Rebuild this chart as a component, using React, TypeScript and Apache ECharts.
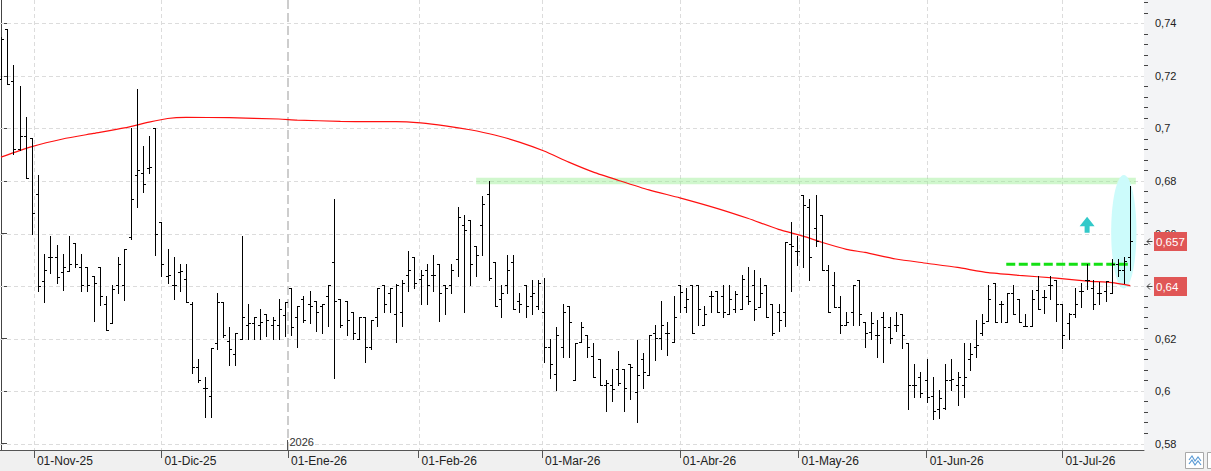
import React, { useEffect, useRef } from 'react';
import * as echarts from 'echarts';

// ---------- categories (trading calendar) ----------
const FIRST_DAY = '2025-10-24';
const LAST_DAY = '2026-07-16';
const HOLIDAYS = ['2025-12-25', '2025-12-26', '2026-01-01', '2026-04-03', '2026-04-06', '2026-05-01'];

const monthStarts = ['2025-11-01', '2025-12-01', '2026-01-01', '2026-02-01', '2026-03-01', '2026-04-01', '2026-05-01', '2026-06-01', '2026-07-01'];
const monthLabels = ['01-Nov-25', '01-Dic-25', '01-Ene-26', '01-Feb-26', '01-Mar-26', '01-Abr-26', '01-May-26', '01-Jun-26', '01-Jul-26'];
const yearStart = '2026-01-01';
const yearLabel = '2026';

// ---------- OHLC series ----------
const opens = [
  0.719, 0.738, 0.718, 0.692, 0.697, 0.6965, 0.675, 0.642, 0.651, 0.651,
  0.6453, 0.6459, 0.6563, 0.6474, 0.6471, 0.6438, 0.6471, 0.6331, 0.626, 0.6403,
  0.6403, 0.6588, 0.6823, 0.6829, 0.6848, 0.700, 0.6643, 0.6438, 0.6403, 0.6453,
  0.6426, 0.6331, 0.6091, 0.6011, 0.598, 0.6182, 0.634, 0.6191, 0.614, 0.620,
  0.6251, 0.6261, 0.6251, 0.6292, 0.6251, 0.6251, 0.629, 0.6394, 0.6281, 0.635,
  0.6331, 0.6343, 0.6324, 0.6362, 0.6491, 0.635, 0.6343, 0.630, 0.620, 0.6281,
  0.6169, 0.6281, 0.6403, 0.6372, 0.6292, 0.630, 0.6441, 0.6511, 0.6428, 0.6461,
  0.6441, 0.6483, 0.6403, 0.6403, 0.6503, 0.6631, 0.665, 0.6551, 0.6631, 0.6749,
  0.6491, 0.635, 0.6403, 0.6491, 0.6343, 0.6403, 0.6362, 0.6324, 0.630, 0.6169,
  0.6067, 0.6169, 0.6324, 0.6041, 0.6186, 0.6214, 0.6133, 0.6124, 0.6022, 0.6022,
  0.6083, 0.6083, 0.6104, 0.5995, 0.6124, 0.6061, 0.622, 0.6202, 0.622, 0.6188,
  0.6403, 0.6321, 0.6403, 0.6403, 0.625, 0.6361, 0.638, 0.6361, 0.6292, 0.6314,
  0.6311, 0.6361, 0.6403, 0.6321, 0.6403, 0.6331, 0.630, 0.630, 0.6561, 0.6535,
  0.6748, 0.6702, 0.6621, 0.6669, 0.6461, 0.6403, 0.6321, 0.625, 0.630, 0.6423,
  0.6262, 0.6225, 0.6214, 0.6283, 0.6245, 0.6252, 0.6292, 0.6184, 0.6024, 0.6055,
  0.6042, 0.5981, 0.5931, 0.5935, 0.6042, 0.6024, 0.6024, 0.6121, 0.6169, 0.622,
  0.6267, 0.641, 0.6331, 0.6262, 0.6372, 0.635, 0.6249, 0.6249, 0.6384, 0.636,
  0.6403, 0.6423, 0.6331, 0.6258, 0.6292, 0.638, 0.6423, 0.6391, 0.6372, 0.638,
  0.6372, 0.6483, 0.6461, 0.6511,
];
const highs = [
  0.735, 0.738, 0.724, 0.716, 0.7045, 0.6965, 0.6823, 0.6522, 0.659, 0.6555,
  0.6522, 0.659, 0.6563, 0.6522, 0.6471, 0.6438, 0.6471, 0.6362, 0.6403, 0.6512,
  0.654, 0.700, 0.7149, 0.6933, 0.6971, 0.700, 0.6643, 0.654, 0.651, 0.6484,
  0.6484, 0.634, 0.6123, 0.6052, 0.6164, 0.6372, 0.634, 0.6245, 0.622, 0.659,
  0.6331, 0.6281, 0.6311, 0.6292, 0.6281, 0.6351, 0.634, 0.6394, 0.6324, 0.6362,
  0.6381, 0.6343, 0.6331, 0.6403, 0.6731, 0.635, 0.6343, 0.630, 0.6281, 0.6281,
  0.627, 0.6394, 0.6403, 0.6394, 0.6407, 0.6423, 0.6534, 0.6511, 0.6461, 0.6483,
  0.652, 0.6483, 0.6403, 0.6483, 0.670, 0.6669, 0.665, 0.6551, 0.6743, 0.680,
  0.6491, 0.6403, 0.652, 0.652, 0.6372, 0.6403, 0.6423, 0.6423, 0.643, 0.620,
  0.6243, 0.6331, 0.6324, 0.6182, 0.6263, 0.6214, 0.6182, 0.6124, 0.6041, 0.6084,
  0.6152, 0.6083, 0.6104, 0.6195, 0.6145, 0.6214, 0.6251, 0.6344, 0.6263, 0.6362,
  0.6403, 0.6391, 0.6403, 0.6403, 0.6324, 0.638, 0.638, 0.6403, 0.6403, 0.638,
  0.6442, 0.6471, 0.6461, 0.643, 0.6403, 0.6331, 0.6331, 0.6569, 0.6644, 0.6589,
  0.6748, 0.6731, 0.6748, 0.6669, 0.6481, 0.6453, 0.6362, 0.630, 0.6403, 0.6423,
  0.6262, 0.6302, 0.627, 0.630, 0.6283, 0.630, 0.6292, 0.6184, 0.6103, 0.6073,
  0.6121, 0.6053, 0.6003, 0.6103, 0.6121, 0.6073, 0.6184, 0.6184, 0.627, 0.6292,
  0.6403, 0.641, 0.6343, 0.6372, 0.6403, 0.635, 0.6292, 0.6384, 0.6437, 0.6384,
  0.6437, 0.6423, 0.6331, 0.6299, 0.6391, 0.641, 0.6483, 0.6423, 0.6414, 0.6419,
  0.6503, 0.6503, 0.6511, 0.678,
];
const lows = [
  0.719, 0.717, 0.6901, 0.6918, 0.681, 0.660, 0.638, 0.634, 0.645, 0.6412,
  0.6385, 0.6459, 0.6471, 0.638, 0.638, 0.6268, 0.6327, 0.6232, 0.626, 0.6374,
  0.6347, 0.658, 0.670, 0.676, 0.6829, 0.652, 0.644, 0.641, 0.635, 0.638,
  0.634, 0.607, 0.6033, 0.590, 0.590, 0.6162, 0.6207, 0.610, 0.610, 0.620,
  0.620, 0.620, 0.620, 0.621, 0.620, 0.620, 0.621, 0.6212, 0.6169, 0.6262,
  0.626, 0.623, 0.622, 0.6249, 0.6051, 0.6243, 0.6212, 0.620, 0.620, 0.611,
  0.6162, 0.6249, 0.630, 0.630, 0.6188, 0.6249, 0.638, 0.6392, 0.6331, 0.6331,
  0.638, 0.6268, 0.6292, 0.6372, 0.644, 0.630, 0.6403, 0.644, 0.652, 0.6423,
  0.6324, 0.6281, 0.6372, 0.6311, 0.630, 0.6281, 0.6292, 0.6311, 0.611, 0.6051,
  0.6003, 0.6131, 0.6131, 0.6041, 0.6186, 0.6131, 0.6053, 0.6024, 0.5923, 0.5961,
  0.6022, 0.5923, 0.597, 0.5882, 0.6011, 0.6061, 0.612, 0.6159, 0.6139, 0.6188,
  0.630, 0.630, 0.622, 0.625, 0.625, 0.630, 0.630, 0.6282, 0.6292, 0.630,
  0.6311, 0.6331, 0.6269, 0.6321, 0.6282, 0.6214, 0.623, 0.6249, 0.638, 0.6481,
  0.6471, 0.6423, 0.6551, 0.6461, 0.630, 0.6321, 0.622, 0.625, 0.625, 0.625,
  0.6169, 0.620, 0.6131, 0.611, 0.6184, 0.623, 0.6163, 0.5931, 0.5979, 0.5979,
  0.596, 0.5893, 0.5898, 0.5931, 0.6003, 0.5947, 0.5979, 0.6081, 0.6131, 0.6214,
  0.6267, 0.6262, 0.6262, 0.6262, 0.6292, 0.6262, 0.6249, 0.6249, 0.6311, 0.6299,
  0.635, 0.6267, 0.6163, 0.620, 0.6283, 0.6321, 0.6389, 0.6311, 0.6331, 0.6343,
  0.6372, 0.644, 0.641, 0.6461,
];
const closes = [
  0.734, 0.717, 0.692, 0.697, 0.681, 0.668, 0.640, 0.646, 0.651, 0.6433,
  0.6474, 0.6484, 0.6484, 0.6403, 0.6403, 0.6412, 0.6362, 0.6232, 0.639, 0.6484,
  0.654, 0.673, 0.6842, 0.679, 0.6852, 0.660, 0.6484, 0.6442, 0.6403, 0.6458,
  0.634, 0.6091, 0.6042, 0.6011, 0.6164, 0.634, 0.6212, 0.6162, 0.622, 0.6281,
  0.6261, 0.6281, 0.6263, 0.627, 0.627, 0.6311, 0.634, 0.6243, 0.6324, 0.627,
  0.6324, 0.630, 0.6331, 0.6403, 0.6343, 0.6252, 0.627, 0.622, 0.6281, 0.6169,
  0.627, 0.6394, 0.6331, 0.6394, 0.6403, 0.6411, 0.6461, 0.6411, 0.6441, 0.6403,
  0.6441, 0.6372, 0.6393, 0.6461, 0.6662, 0.6614, 0.6483, 0.652, 0.6711, 0.643,
  0.6324, 0.6372, 0.6461, 0.6311, 0.6331, 0.6324, 0.6372, 0.6411, 0.6169, 0.6103,
  0.6212, 0.630, 0.6262, 0.6182, 0.6244, 0.6167, 0.6053, 0.6024, 0.6032, 0.6008,
  0.6030, 0.6011, 0.6093, 0.6061, 0.6072, 0.6214, 0.6202, 0.6251, 0.622, 0.6282,
  0.6379, 0.6352, 0.622, 0.6314, 0.6293, 0.6361, 0.630, 0.630, 0.6352, 0.6369,
  0.6428, 0.6343, 0.6311, 0.6373, 0.6282, 0.622, 0.627, 0.6566, 0.6551, 0.6535,
  0.6708, 0.6511, 0.6573, 0.6461, 0.630, 0.6321, 0.625, 0.6263, 0.6403, 0.6292,
  0.622, 0.626, 0.6214, 0.6245, 0.6202, 0.6252, 0.6214, 0.6024, 0.6024, 0.5992,
  0.5979, 0.5926, 0.5973, 0.6042, 0.6048, 0.6055, 0.6055, 0.6141, 0.6175, 0.6258,
  0.635, 0.6262, 0.6331, 0.6372, 0.6292, 0.6262, 0.6249, 0.635, 0.6311, 0.636,
  0.6403, 0.6331, 0.6214, 0.6292, 0.6331, 0.638, 0.6423, 0.6331, 0.6372, 0.6419,
  0.6483, 0.6461, 0.6495, 0.657,
];

// ---------- moving average (read at sampled bars) ----------
const maIdx = [0, 5, 10, 15, 20, 24, 27, 30, 37, 45, 48, 55, 60, 64, 68, 72, 76, 80, 84, 88, 92, 96, 100, 105, 110, 116, 121, 126, 130, 133, 137, 140, 145, 150, 155, 160, 165, 171, 176, 180, 183];
const maVal = [0.6891, 0.6931, 0.6960, 0.6981, 0.7002, 0.7024, 0.7038, 0.7042, 0.7041, 0.7036, 0.7032, 0.7027, 0.7026, 0.7026, 0.7021, 0.7010, 0.6995, 0.6975, 0.6948, 0.6914, 0.6872, 0.6834, 0.6803, 0.6766, 0.6736, 0.6696, 0.6658, 0.6616, 0.6590, 0.6567, 0.6540, 0.6528, 0.6503, 0.6487, 0.6471, 0.6451, 0.6441, 0.6430, 0.6419, 0.6413, 0.6402];

// ---------- axis ticks ----------
const yTicks = [0.58, 0.6, 0.62, 0.64, 0.66, 0.68, 0.7, 0.72, 0.74];

// ---------- annotations (data units) ----------
const resistanceLevel = [77, 183.9, 0.68];       // from bar, to bar, value
const breakoutLevel = [162.9, 183.0, 0.6483];    // from bar, to bar, value
const highlightZone = [179.9, 184.0, 0.6391, 0.6823]; // from bar, to bar, low, high
const arrowPoint = [176.0, 0.6664];              // bar, value (tip)

// ---------- axis ranges ----------
const X_MIN = -0.162;
const X_MAX = 185.22;
const Y_MIN = 0.5776;
const Y_MAX = 0.7489;

const FONT = '"Liberation Sans", Arial, sans-serif';

const dayNum = (s: string) => Date.UTC(+s.slice(0, 4), +s.slice(5, 7) - 1, +s.slice(8, 10)) / 86400000;

function buildTradingDays(): number[] {
  const hol = new Set(HOLIDAYS.map(dayNum));
  const out: number[] = [];
  for (let d = dayNum(FIRST_DAY); d <= dayNum(LAST_DAY); d++) {
    const wd = new Date(d * 86400000).getUTCDay();
    if (wd === 0 || wd === 6 || hol.has(d)) continue;
    out.push(d);
  }
  return out;
}

function positionOfDate(days: number[], s: string): number {
  const d = dayNum(s);
  let b = days.findIndex((x) => x >= d);
  if (b < 0) b = days.length - 1;
  if (days[b] === d || b === 0) return b;
  const a = b - 1;
  return a + (d - days[a]) / (days[b] - days[a]);
}

const fmtNum = (v: number) => String(+v.toFixed(3)).replace('.', ',');
const crisp = (v: number) => Math.round(v) + 0.5;

export default function App() {
  const ref = useRef<HTMLDivElement>(null);

  useEffect(() => {
    document.body.style.margin = '0';
    const el = ref.current!;
    const chart = echarts.init(el, null, { renderer: 'svg' });

    const days = buildTradingDays();
    const n = Math.min(opens.length, highs.length, lows.length, closes.length, days.length);
    const ohlc = [];
    for (let i = 0; i < n; i++) ohlc.push([i, opens[i], highs[i], lows[i], closes[i]]);

    const monthPos = monthStarts.map((m) => positionOfDate(days, m));
    const labelFor = (v: number) => {
      const k = monthPos.findIndex((p) => Math.abs(p - v) < 1e-6);
      return k >= 0 ? monthLabels[k] : '';
    };

    const minorTicks: number[] = [];
    for (let k = 145; k <= 187; k++) if (k % 5 !== 0) minorTicks.push(+(k * 0.004).toFixed(3));

    const lastClose = closes[n - 1];
    const lastMA = maVal[maVal.length - 1];

    const option: any = {
      animation: false,
      backgroundColor: 'transparent',
      grid: { left: 0, right: 67, top: 0, bottom: 21, show: true, backgroundColor: '#ffffff', borderWidth: 0 },
      xAxis: {
        type: 'value',
        min: X_MIN,
        max: X_MAX,
        position: 'bottom',
        axisLine: { show: true, onZero: false, lineStyle: { color: '#555', width: 1 } },
        axisTick: { show: true, customValues: monthPos, length: 8, lineStyle: { color: '#555', width: 1 } },
        axisLabel: {
          customValues: monthPos,
          formatter: (v: number) => labelFor(v),
          align: 'left',
          margin: 5,
          padding: [0, 0, 0, 3],
          color: '#222',
          fontSize: 12,
          fontFamily: FONT,
        },
        splitLine: { show: false },
      },
      yAxis: [
        {
          type: 'value',
          position: 'right',
          min: Y_MIN,
          max: Y_MAX,
          axisLine: { show: true, lineStyle: { color: '#444', width: 1 } },
          axisTick: { show: true, customValues: yTicks, length: 6, lineStyle: { color: '#444' } },
          axisLabel: { customValues: yTicks, formatter: (v: number) => fmtNum(v), margin: 11, color: '#222', fontSize: 11, fontFamily: FONT },
          splitLine: { show: false },
        },
        {
          type: 'value',
          position: 'right',
          min: Y_MIN,
          max: Y_MAX,
          axisLine: { show: false },
          axisTick: { show: true, customValues: minorTicks, length: 4, lineStyle: { color: '#444' } },
          axisLabel: { show: false },
          splitLine: { show: false },
        },
      ],
      series: [
        // horizontal grid lines
        {
          type: 'custom',
          silent: true,
          z: 1,
          data: yTicks.map((v) => [X_MIN, v]),
          encode: { x: 0, y: 1 },
          renderItem: (params: any, api: any) => {
            const cs = params.coordSys;
            const y = crisp(api.coord([X_MIN, api.value(1)])[1]);
            return {
              type: 'line',
              shape: { x1: cs.x, y1: y, x2: cs.x + cs.width, y2: y },
              style: { stroke: '#dcdcdc', lineWidth: 1, lineDash: [4, 3] },
            };
          },
        },
        // vertical month lines + year boundary
        {
          type: 'custom',
          silent: true,
          z: 1,
          data: monthPos.map((p, k) => [p, monthStarts[k] === yearStart ? 1 : 0]),
          encode: { x: 0 },
          renderItem: (params: any, api: any) => {
            const cs = params.coordSys;
            const isYear = api.value(1) === 1;
            const xr = api.coord([api.value(0), Y_MIN])[0];
            const bottom = cs.y + cs.height;
            if (!isYear) {
              const x = crisp(xr);
              return {
                type: 'line',
                shape: { x1: x, y1: cs.y, x2: x, y2: bottom },
                style: { stroke: '#dcdcdc', lineWidth: 1, lineDash: [4, 3] },
              };
            }
            const x = Math.round(xr);
            return {
              type: 'group',
              children: [
                {
                  type: 'line',
                  shape: { x1: x, y1: cs.y, x2: x, y2: bottom },
                  style: { stroke: '#cdcdcd', lineWidth: 2, lineDash: [9, 4] },
                },
                {
                  type: 'line',
                  shape: { x1: x - 0.5, y1: bottom - 10, x2: x - 0.5, y2: bottom },
                  style: { stroke: '#555', lineWidth: 1 },
                },
                {
                  type: 'text',
                  x: x + 1.5,
                  y: bottom - 8.5,
                  style: {
                    text: yearLabel,
                    fill: '#333',
                    font: '11px ' + FONT,
                    textAlign: 'left',
                    textVerticalAlign: 'middle',
                    align: 'left',
                    verticalAlign: 'middle',
                  },
                },
              ],
            };
          },
        },
        // resistance band
        {
          type: 'custom',
          silent: true,
          z: 2,
          data: [resistanceLevel],
          encode: { x: [0, 1], y: 2 },
          renderItem: (params: any, api: any) => {
            const p1 = api.coord([api.value(0), api.value(2)]);
            const p2 = api.coord([api.value(1), api.value(2)]);
            return {
              type: 'rect',
              shape: { x: p1[0], y: p1[1] - 3.2, width: p2[0] - p1[0], height: 6.4 },
              style: { fill: 'rgba(150, 238, 145, 0.45)' },
            };
          },
        },
        // highlight ellipse
        {
          type: 'custom',
          silent: true,
          z: 2,
          data: [highlightZone],
          encode: { x: [0, 1], y: [2, 3] },
          renderItem: (params: any, api: any) => {
            const pl = api.coord([api.value(0), api.value(2)]);
            const ph = api.coord([api.value(1), api.value(3)]);
            return {
              type: 'ellipse',
              shape: { cx: (pl[0] + ph[0]) / 2, cy: (pl[1] + ph[1]) / 2, rx: (ph[0] - pl[0]) / 2, ry: (pl[1] - ph[1]) / 2 },
              style: { fill: '#ccfbfb' },
            };
          },
        },
        // breakout dashed level
        {
          type: 'custom',
          silent: true,
          z: 3,
          data: [breakoutLevel],
          encode: { x: [0, 1], y: 2 },
          renderItem: (params: any, api: any) => {
            const p1 = api.coord([api.value(0), api.value(2)]);
            const p2 = api.coord([api.value(1), api.value(2)]);
            return {
              type: 'line',
              shape: { x1: p1[0], y1: p1[1], x2: p2[0], y2: p2[1] },
              style: { stroke: '#14e014', lineWidth: 3, lineDash: [9, 3.5] },
            };
          },
        },
        // moving average
        {
          type: 'line',
          z: 4,
          data: maIdx.map((x, k) => [x, maVal[k]]),
          symbol: 'none',
          smooth: 0.2,
          silent: true,
          lineStyle: { color: '#ff1010', width: 1.2 },
        },
        // OHLC bars
        {
          type: 'custom',
          z: 5,
          silent: true,
          dimensions: ['idx', 'open', 'high', 'low', 'close'],
          encode: { x: 0, y: [1, 2, 3, 4] },
          data: ohlc,
          renderItem: (params: any, api: any) => {
            const i = api.value(0);
            const x = crisp(api.coord([i, api.value(1)])[0]);
            const yo = crisp(api.coord([i, api.value(1)])[1]);
            const yh = Math.round(api.coord([i, api.value(2)])[1]);
            const yl = Math.round(api.coord([i, api.value(3)])[1]);
            const yc = crisp(api.coord([i, api.value(4)])[1]);
            const st = { stroke: '#000', lineWidth: 1 };
            return {
              type: 'group',
              children: [
                { type: 'line', shape: { x1: x, y1: yh, x2: x, y2: yl + 1 }, style: st },
                { type: 'line', shape: { x1: x - 2.5, y1: yo, x2: x, y2: yo }, style: st },
                { type: 'line', shape: { x1: x, y1: yc, x2: x + 2.5, y2: yc }, style: st },
              ],
            };
          },
        },
        // up arrow
        {
          type: 'custom',
          silent: true,
          z: 6,
          data: [arrowPoint],
          encode: { x: 0, y: 1 },
          renderItem: (params: any, api: any) => {
            const p = api.coord([api.value(0), api.value(1)]);
            const x = p[0];
            const y = p[1];
            return {
              type: 'polygon',
              shape: {
                points: [
                  [x, y],
                  [x + 7.5, y + 9.5],
                  [x + 2.5, y + 9.5],
                  [x + 2.5, y + 16],
                  [x - 2.5, y + 16],
                  [x - 2.5, y + 9.5],
                  [x - 7.5, y + 9.5],
                ],
              },
              style: { fill: '#33c9c9' },
            };
          },
        },
        // last value labels on the price axis
        {
          type: 'custom',
          silent: true,
          z: 10,
          data: [
            [X_MAX, lastClose],
            [X_MAX, lastMA],
          ],
          encode: { x: 0, y: 1 },
          renderItem: (params: any, api: any) => {
            const cs = params.coordSys;
            const v = api.value(1);
            const y = api.coord([X_MAX, v])[1];
            const ax = cs.x + cs.width;
            const yc = Math.round(y) + 0.5;
            return {
              type: 'group',
              children: [
                {
                  type: 'polyline',
                  shape: { points: [[ax + 6, yc - 3], [ax + 3, yc], [ax + 6, yc + 3]] },
                  style: { stroke: '#444', lineWidth: 1, fill: null },
                },
                {
                  type: 'line',
                  shape: { x1: ax + 3, y1: yc, x2: ax + 8.5, y2: yc },
                  style: { stroke: '#444', lineWidth: 1 },
                },
                {
                  type: 'rect',
                  shape: { x: ax + 10, y: Math.round(y) - 9, width: 33, height: 19 },
                  style: { fill: '#e05656' },
                },
                {
                  type: 'text',
                  x: ax + 12,
                  y: Math.round(y) + 0.5,
                  style: {
                    text: fmtNum(v),
                    fill: '#ffffff',
                    font: '11.5px ' + FONT,
                    textAlign: 'left',
                    textVerticalAlign: 'middle',
                    align: 'left',
                    verticalAlign: 'middle',
                  },
                },
              ],
            };
          },
        },
      ],
      graphic: [
        {
          type: 'rect',
          shape: { x: 1185.5, y: 452.5, width: 18, height: 16 },
          style: { fill: '#ffffff', stroke: '#a8a8a8', lineWidth: 1 },
          silent: true,
        },
        {
          type: 'polyline',
          shape: { points: [[1189, 460], [1192, 456], [1195, 461], [1198, 457], [1201, 461]] },
          style: { stroke: '#5b9bd5', lineWidth: 1.2, fill: null },
          silent: true,
        },
        {
          type: 'polyline',
          shape: { points: [[1189, 464], [1192, 460], [1195, 465], [1198, 461], [1201, 465]] },
          style: { stroke: '#5b9bd5', lineWidth: 1.2, fill: null },
          silent: true,
        },
        {
          type: 'rect',
          shape: { x: 1207.5, y: 452.5, width: 10, height: 16 },
          style: { fill: '#ffffff', stroke: '#a8a8a8', lineWidth: 1 },
          silent: true,
        },
      ],
    };

    chart.setOption(option);
    return () => chart.dispose();
  }, []);

  return (
    <div
      ref={ref}
      style={{
        position: 'absolute',
        left: 0,
        top: 0,
        width: 1211,
        height: 471,
        background: 'linear-gradient(to bottom, #f3f4f6 0px, #f3f4f6 450px, #f0f0f0 450px, #f0f0f0 471px)',
      }}
    />
  );
}
